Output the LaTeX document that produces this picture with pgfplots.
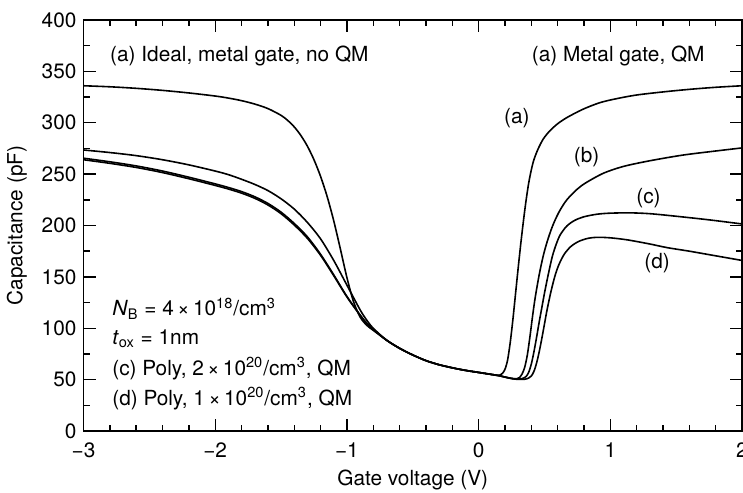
\documentclass[border=0pt]{standalone}
\usepackage{pgfplots}
\pgfplotsset{compat=1.18}
\usepackage{fontspec}
\setmainfont{TeX Gyre Heros}

% C-V curves: gate capacitance vs gate voltage
% (a) metal gate with QM, (b) ideal metal gate, (c)/(d) poly gates with QM
\pgfplotstableread{
V C
-3.00 336
-2.80 335
-2.60 333.5
-2.40 331.5
-2.20 329
-2.00 326
-1.90 324
-1.80 321.5
-1.70 318.2
-1.60 313.8
-1.50 307.2
-1.45 302.3
-1.40 296
-1.35 287.7
-1.30 277.2
-1.25 264
-1.20 247.8
-1.15 228.2
-1.10 204.6
-1.05 177.4
-1.00 149.4
-0.95 126
-0.90 111
-0.85 103
-0.80 98
-0.70 88.5
-0.60 80.5
-0.50 74
-0.40 68.5
-0.30 64.5
-0.20 61.5
-0.10 59
0.00 57
0.10 55
0.15 54
0.18 56
0.20 60
0.22 69
0.24 86
0.26 108
0.28 133
0.30 158
0.32 182
0.34 204
0.36 224
0.38 241
0.40 254
0.42 264
0.45 274
0.49 284
0.54 292
0.60 299
0.67 305
0.79 313
0.92 319.5
1.05 323.5
1.20 327
1.40 330
1.60 332.5
1.80 334.5
2.00 336
}\curveA

\pgfplotstableread{
V C
-3.00 273.5
-2.80 271
-2.60 268
-2.40 264
-2.20 259
-2.00 253
-1.90 249.5
-1.80 245
-1.70 240
-1.60 234
-1.50 226
-1.40 216
-1.30 203
-1.20 187
-1.10 166
-1.00 142
-0.90 118
-0.85 108
-0.80 100
-0.70 88.5
-0.60 80.5
-0.50 74
-0.40 68.5
-0.30 64.5
-0.20 61.5
-0.10 59
0.00 57
0.10 55
0.15 54
0.20 52.5
0.25 51.2
0.29 50.8
0.31 52
0.33 55.5
0.35 62
0.37 74
0.39 92
0.41 112
0.43 130
0.46 152
0.49 170
0.52 184
0.56 199
0.61 213
0.67 225
0.75 235.5
0.82 242
0.95 251
1.10 257.5
1.30 263
1.55 268.5
1.80 272.5
2.00 275.5
}\curveB

\pgfplotstableread{
V C
-3.00 265.5
-2.80 262
-2.60 258
-2.40 253
-2.20 247
-2.00 240.5
-1.90 237
-1.80 233
-1.70 228
-1.60 221.5
-1.50 213
-1.40 202
-1.30 189
-1.20 172
-1.10 152
-1.00 131
-0.90 113
-0.85 105
-0.80 99
-0.70 88.5
-0.60 80.5
-0.50 74
-0.40 68.5
-0.30 64.5
-0.20 61.5
-0.10 59
0.00 57
0.10 55
0.15 54
0.20 52.5
0.25 51.2
0.29 50.6
0.33 51
0.36 53
0.38 57
0.40 65
0.42 77
0.44 91
0.46 106
0.48 120
0.50 134
0.53 153
0.56 170
0.59 182
0.62 191
0.67 199.5
0.73 205
0.80 208.5
0.90 211
1.00 212
1.15 212.3
1.30 211.5
1.50 209
1.75 205.5
2.00 201.5
}\curveC

\pgfplotstableread{
V C
-3.00 264
-2.80 260.5
-2.60 256.5
-2.40 251.5
-2.20 245.5
-2.00 239
-1.90 235.5
-1.80 231.5
-1.70 226.5
-1.60 220
-1.50 211.5
-1.40 200.5
-1.30 187.5
-1.20 171
-1.10 151.2
-1.00 130.5
-0.90 112.7
-0.85 104.8
-0.80 99
-0.70 88.5
-0.60 80.5
-0.50 74
-0.40 68.5
-0.30 64.5
-0.20 61.5
-0.10 59
0.00 57
0.10 55
0.15 54
0.20 52.5
0.25 51
0.30 50.2
0.35 50.4
0.38 51.5
0.40 53.5
0.42 58
0.44 66
0.46 77
0.48 90
0.50 104
0.52 118
0.55 136
0.58 151
0.61 162
0.65 172
0.70 179.5
0.76 184.5
0.83 187.5
0.90 188.5
1.00 188
1.13 186
1.30 182
1.43 178.5
1.60 175
1.80 170.5
2.00 166
}\curveD

\begin{document}
\begin{tikzpicture}
\begin{axis}[
  scale only axis,
  width=329.25pt, height=205.5pt,
  xmin=-3, xmax=2, ymin=0, ymax=400,
  xtick={-3,-2,-1,0,1,2},
  xticklabels={−3,−2,−1,0,1,2},
  ytick={0,50,...,400},
  minor x tick num=4,
  minor y tick num=1,
  tick align=inside,
  major tick length=6pt,
  minor tick length=3.2pt,
  axis line style={line width=0.9pt},
  every tick/.style={line width=0.7pt, black},
  font=\fontsize{10.4}{12.5}\selectfont,
  /pgf/number format/assume math mode=true,
  xticklabel style={yshift=-2.3pt},
  xlabel={Gate voltage (V)},
  ylabel={Capacitance (pF)},
  every axis x label/.style={at={(axis description cs:0.5,-0.1192)}, anchor=center},
  every axis y label/.style={at={(axis description cs:-0.101,0.5)}, anchor=center, rotate=90},
  clip=false,
]
\addplot[black, line width=0.8pt, smooth, tension=0.5] table {\curveA};
\addplot[black, line width=0.8pt, smooth, tension=0.5] table {\curveB};
\addplot[black, line width=0.8pt, smooth, tension=0.5] table {\curveC};
\addplot[black, line width=0.8pt, smooth, tension=0.5] table {\curveD};

\node[anchor=base west, inner sep=0pt] at (axis cs:-2.8,359.5) {(a) Ideal, metal gate, no QM};
\node[anchor=base east, inner sep=0pt] at (axis cs:1.719,359.5) {(a) Metal gate, QM};

\node at (axis cs:0.29,304.6) {(a)};
\node at (axis cs:0.82,266.7) {(b)};
\node at (axis cs:1.29,226.8) {(c)};
\node at (axis cs:1.355,163.5) {(d)};

\node[anchor=base west, inner sep=0pt] at (axis cs:-2.784,112.2) {\textit{N}\textsubscript{B} = 4\,×\,10\textsuperscript{18}/cm\textsuperscript{3}};
\node[anchor=base west, inner sep=0pt] at (axis cs:-2.784,84.4) {\textit{t}\textsubscript{ox} = 1nm};
\node[anchor=base west, inner sep=0pt] at (axis cs:-2.784,54.5) {(c) Poly, 2\,×\,10\textsuperscript{20}/cm\textsuperscript{3}, QM};
\node[anchor=base west, inner sep=0pt] at (axis cs:-2.784,25.3) {(d) Poly, 1\,×\,10\textsuperscript{20}/cm\textsuperscript{3}, QM};
\end{axis}
\pgfresetboundingbox
\path[use as bounding box] (-41.75pt,-30.5pt) rectangle (329.75pt,215.5pt);
\end{tikzpicture}
\end{document}
